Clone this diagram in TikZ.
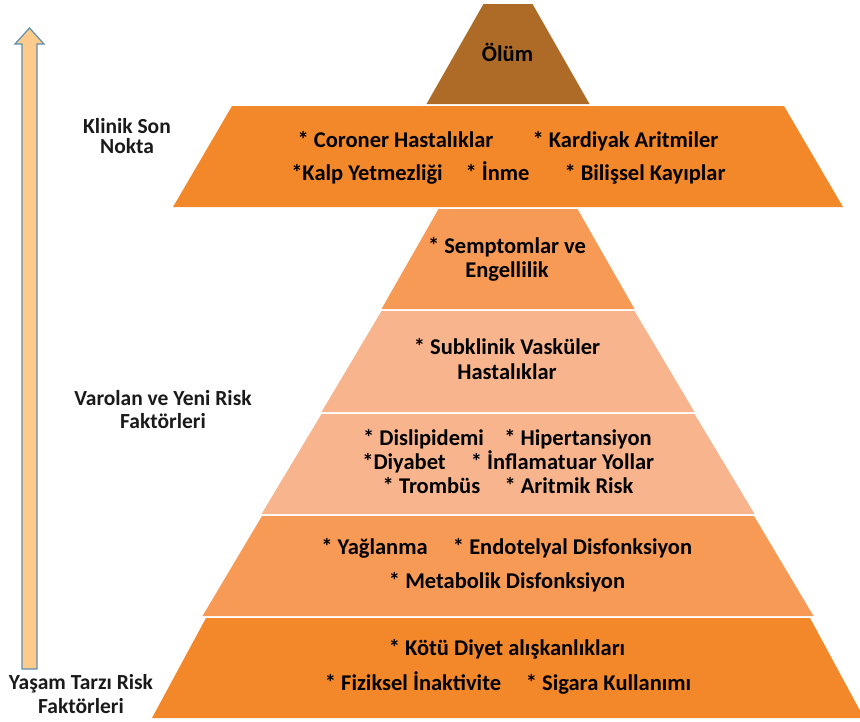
\documentclass[tikz,border=0pt]{standalone}
\usepackage{fontspec}
\setmainfont{Carlito}
\definecolor{brownc}{HTML}{AE6B27}
\definecolor{orA}{HTML}{F3882B}
\definecolor{orB}{HTML}{F69A56}
\definecolor{orC}{HTML}{F8B58D}
\definecolor{arrfill}{HTML}{FFCB8C}
\definecolor{arrdraw}{HTML}{5E8FB0}
\definecolor{lbl}{HTML}{1A1A1A}
\tikzset{
  ptext/.style={font=\fontsize{22.5}{26}\selectfont\bfseries, text=black, inner sep=0pt, anchor=base},
  ltext/.style={font=\fontsize{21.5}{25}\selectfont\bfseries, text=lbl, inner sep=0pt, anchor=base},
}
\newcommand\pband[5]{\fill[#1] ({508-#4},#2) -- ({508+#4},#2) -- ({508+#5},#3) -- ({508-#5},#3) -- cycle;}
\begin{document}
\begin{tikzpicture}[x=1pt,y=-1pt]
\useasboundingbox (0,0) rectangle (860,721);
% pyramid bands
\pband{brownc}{4}{104}{24.5}{81.5}
\pband{orA}{106}{207}{276}{335}
\pband{orB}{209}{309}{69.5}{126.5}
\pband{orC}{311}{412}{126.5}{186.5}
\pband{orC}{414}{514}{186.5}{246.5}
\pband{orB}{516}{616}{246}{305.5}
\pband{orA}{618}{718}{302}{356}
% arrow
\draw[arrdraw, fill=arrfill, line width=1.2pt, line join=miter]
  (22,669) -- (22,44) -- (15,44) -- (29.5,28) -- (44,44) -- (37,44) -- (37,669) -- cycle;
% left labels
\node[ltext] (l1a) at (127,133) {Klinik Son};
\node[ltext] (l1b) at (127,153) {Nokta};
\node[ltext] (l2a) at (163,405) {Varolan ve Yeni Risk};
\node[ltext] (l2b) at (163,428) {Faktörleri};
\node[ltext] (l3a) at (81,689) {Yaşam Tarzı Risk};
\node[ltext] (l3b) at (81,713) {Faktörleri};
% pyramid text
\node[ptext] (olum) at (507.5,61) {Ölüm};
\node[ptext] (k1) at (395.5,147) {* Coroner Hastalıklar};
\node[ptext] (k2) at (625.5,147) {* Kardiyak Aritmiler};
\node[ptext] (k3) at (367,180) {*Kalp Yetmezliği};
\node[ptext] (k4) at (497.5,180) {* İnme};
\node[ptext] (k5) at (645,180) {* Bilişsel Kayıplar};
\node[ptext] (s1) at (507,253) {* Semptomlar ve};
\node[ptext] (s2) at (507,277) {Engellilik};
\node[ptext] (v1) at (507,354) {* Subklinik Vasküler};
\node[ptext] (v2) at (507,379) {Hastalıklar};
\node[ptext] (d1) at (423.5,445) {* Dislipidemi};
\node[ptext] (d2) at (578,445) {* Hipertansiyon};
\node[ptext] (d3) at (404,469) {*Diyabet};
\node[ptext] (d4) at (562.5,469) {* İnflamatuar Yollar};
\node[ptext] (d5) at (431.5,493) {* Trombüs};
\node[ptext] (d6) at (569,493) {* Aritmik Risk};
\node[ptext] (y1) at (374.5,554) {* Yağlanma};
\node[ptext] (y2) at (572.5,554) {* Endotelyal Disfonksiyon};
\node[ptext] (y3) at (507,588) {* Metabolik Disfonksiyon};
\node[ptext] (b1) at (507,655) {* Kötü Diyet alışkanlıkları};
\node[ptext] (b2) at (413,690) {* Fiziksel İnaktivite};
\node[ptext] (b3) at (608.5,690) {* Sigara Kullanımı};
\end{tikzpicture}
\end{document}
